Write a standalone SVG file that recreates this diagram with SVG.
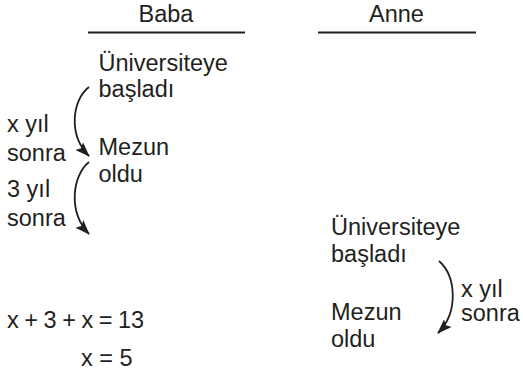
<svg xmlns="http://www.w3.org/2000/svg" width="523" height="378" viewBox="0 0 523 378">
<style>
text{font-family:"Liberation Sans",Arial,sans-serif;font-size:23.5px;fill:#231f20}
.hl{stroke:#231f20;stroke-width:2.2}
.arr{fill:none;stroke:#231f20;stroke-width:1.8;marker-end:url(#ah)}
</style>
<defs>
<marker id="ah" viewBox="0 0 15 11" refX="14" refY="5.5" markerWidth="15" markerHeight="11" markerUnits="userSpaceOnUse" orient="auto">
<path d="M0,0 L15,5.5 L0,11 L3,5.5 Z" fill="#231f20"/>
</marker>
</defs>
<rect width="523" height="378" fill="#fff"/>
<g id="baba-header">
<text x="166" y="22" text-anchor="middle">Baba</text>
<line class="hl" x1="88" y1="32.5" x2="245" y2="32.5"/>
</g>
<g id="anne-header">
<text x="396.5" y="22" text-anchor="middle">Anne</text>
<line class="hl" x1="318" y1="32.5" x2="476" y2="32.5"/>
</g>
<g id="baba-start">
<text x="98.5" y="71">Üniversiteye</text>
<text x="98.5" y="97">başladı</text>
</g>
<g id="baba-grad">
<text x="98.5" y="155">Mezun</text>
<text x="98.5" y="182">oldu</text>
</g>
<g id="baba-label1">
<text x="7" y="132">x yıl</text>
<text x="7" y="161">sonra</text>
</g>
<g id="baba-label2">
<text x="7" y="197">3 yıl</text>
<text x="7" y="226">sonra</text>
</g>
<g id="anne-start">
<text x="331" y="235">Üniversiteye</text>
<text x="331" y="262">başladı</text>
</g>
<g id="anne-grad">
<text x="331" y="320">Mezun</text>
<text x="331" y="347">oldu</text>
</g>
<g id="anne-label">
<text x="461" y="297">x yıl</text>
<text x="461" y="321">sonra</text>
</g>
<g id="equations">
<text x="7" y="328" word-spacing="-1">x + 3 + x = 13</text>
<text x="81" y="366">x = 5</text>
</g>
<g id="connectors">
<path class="arr" d="M89,87 C72,100 68,135 89,156"/>
<path class="arr" d="M89,162 C72,176 68,212 89,234"/>
<path class="arr" d="M439,261 C456,276 459,312 438,333"/>
</g>
</svg>
